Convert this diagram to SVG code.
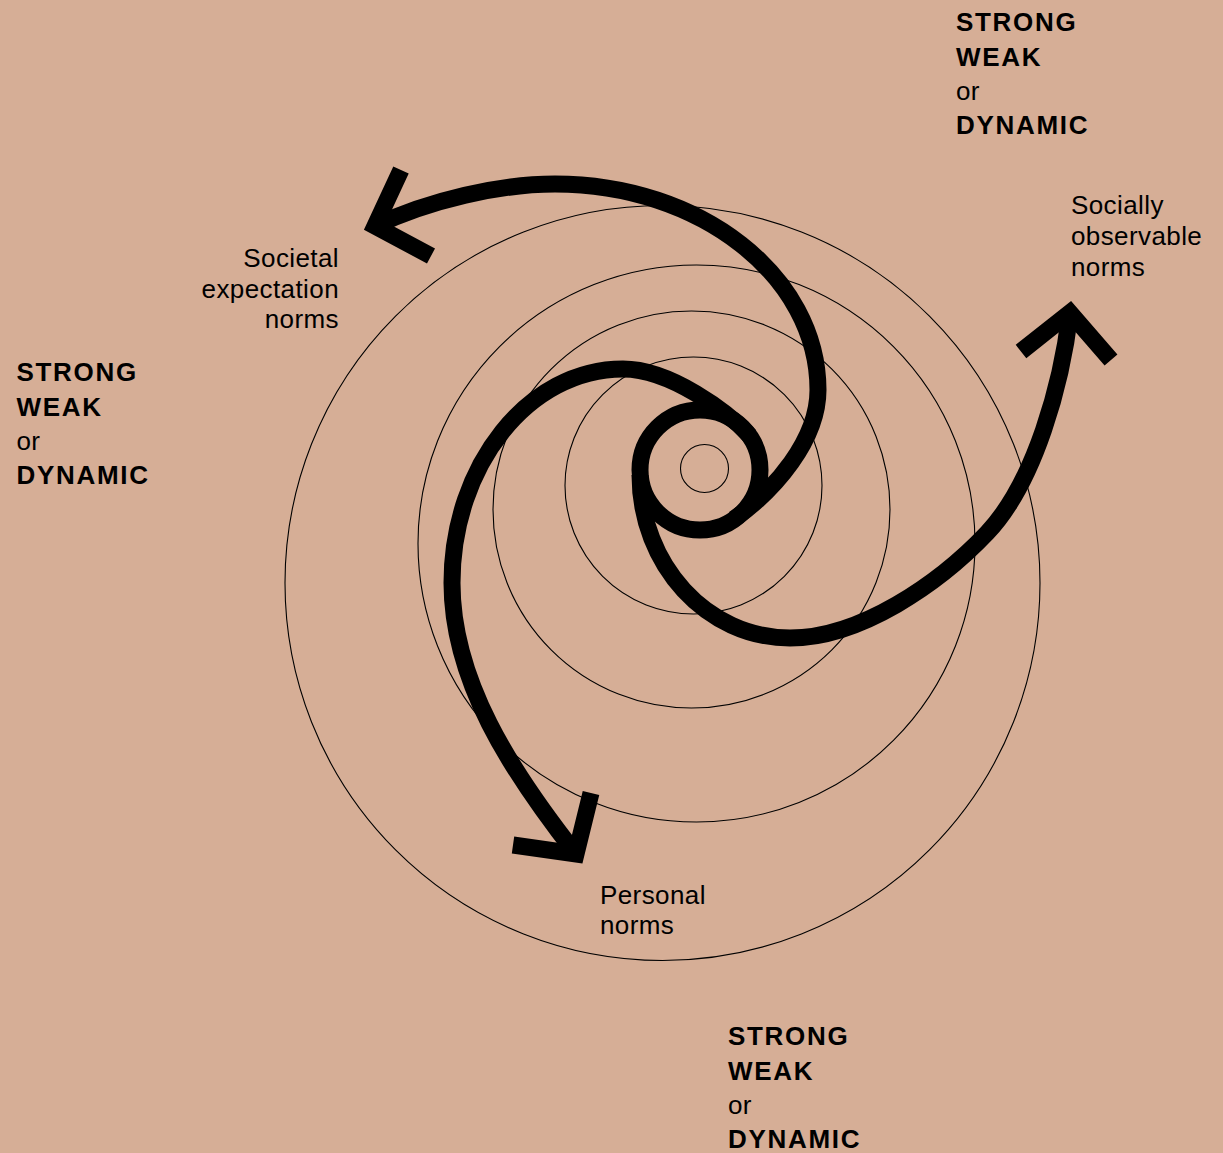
<svg xmlns="http://www.w3.org/2000/svg" width="1223" height="1153" viewBox="0 0 1223 1153">
  <style>
    .ring{fill:none;stroke:#000;stroke-width:1.1}
    .arm{fill:none;stroke:#000;stroke-width:17;stroke-linecap:butt}
    .head{fill:none;stroke:#000;stroke-width:17;stroke-linejoin:miter;stroke-miterlimit:10;stroke-linecap:butt}
    .lbl{font-family:"Liberation Sans",Arial,sans-serif;font-size:26px;fill:#000;letter-spacing:0.4px}
    .b{font-weight:700;letter-spacing:1.7px}
    .r{text-anchor:end}
  </style>
  <rect width="1223" height="1153" fill="#d6ae96"/>

  <!-- concentric-ish rings -->
  <g id="rings">
    <circle class="ring" cx="662.5" cy="583" r="377.5"/>
    <circle class="ring" cx="696.5" cy="543.5" r="278.5"/>
    <circle class="ring" cx="691.5" cy="509.5" r="198.5"/>
    <circle class="ring" cx="693.5" cy="485.5" r="128.5"/>
    <circle class="ring" cx="704.5" cy="468.5" r="24"/>
  </g>

  <!-- spiral arms out of the central loop -->
  <g id="connectors">
    <circle class="arm" cx="700" cy="470" r="60"/>
    <g id="arm-societal">
      <path class="arm" d="M734,519 C775,490 818,440 818,390 C818,276 700,184 555,184 C500,184 430,200 375,226"/>
      <polyline class="head" points="401,170 375,226 431,256"/>
    </g>
    <g id="arm-social">
      <path class="arm" d="M640,475 C640,565 707,638 790,638 C860,638 938.8,583.8 987,533 C1035.2,482.2 1061.9,382.5 1070,313"/>
      <polyline class="head" points="1021,351.5 1070,312.6 1111,360"/>
    </g>
    <g id="arm-personal">
      <path class="arm" d="M750,436 C728,412 670,369 623,369 C529,369 452,465 452,583 C452,680 510,770 576,854"/>
      <polyline class="head" points="591,793 576,854 513,845"/>
    </g>
  </g>

  <g id="label-societal" class="lbl r">
    <text x="339" y="267">Societal</text>
    <text x="339" y="297.5">expectation</text>
    <text x="339" y="328">norms</text>
  </g>
  <g id="label-social" class="lbl">
    <text x="1071" y="214">Socially</text>
    <text x="1071" y="245">observable</text>
    <text x="1071" y="275.5">norms</text>
  </g>
  <g id="label-personal" class="lbl">
    <text x="600" y="904">Personal</text>
    <text x="600" y="934">norms</text>
  </g>

  <g id="strength-top" class="lbl">
    <text class="b" x="956" y="31">STRONG</text>
    <text class="b" x="956" y="65.5">WEAK</text>
    <text x="956" y="100">or</text>
    <text class="b" x="956" y="134">DYNAMIC</text>
  </g>
  <g id="strength-left" class="lbl">
    <text class="b" x="16.5" y="381">STRONG</text>
    <text class="b" x="16.5" y="415.5">WEAK</text>
    <text x="16.5" y="450">or</text>
    <text class="b" x="16.5" y="484">DYNAMIC</text>
  </g>
  <g id="strength-bottom" class="lbl">
    <text class="b" x="728" y="1045">STRONG</text>
    <text class="b" x="728" y="1079.5">WEAK</text>
    <text x="728" y="1114">or</text>
    <text class="b" x="728" y="1148">DYNAMIC</text>
  </g>
</svg>
